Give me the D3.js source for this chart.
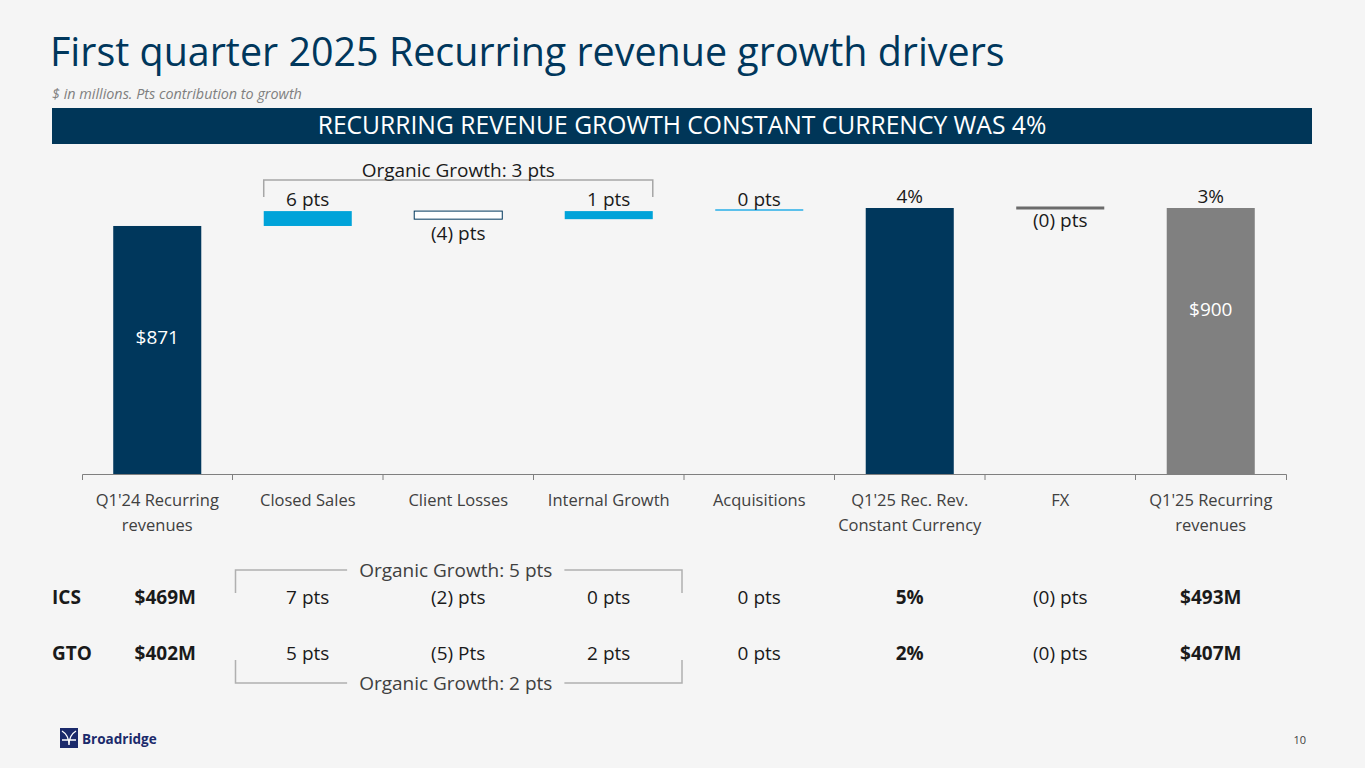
<!DOCTYPE html>
<html>
<head>
<meta charset="utf-8">
<script src="https://cdn.jsdelivr.net/npm/d3@7"></script>
<style>
  html, body { margin: 0; padding: 0; background: #f5f5f5; }
  svg { display: block; font-family: "Open Sans", sans-serif; }
</style>
</head>
<body>
<div id="chart"></div>
<script>
// ---- data ----
var categories = ["Q1'24 Recurring revenues", "Closed Sales", "Client Losses", "Internal Growth",
                  "Acquisitions", "Q1'25 Rec. Rev. Constant Currency", "FX", "Q1'25 Recurring revenues"];
var tickLabels = [["Q1'24 Recurring", "revenues"], ["Closed Sales"], ["Client Losses"], ["Internal Growth"],
                  ["Acquisitions"], ["Q1'25 Rec. Rev.", "Constant Currency"], ["FX"], ["Q1'25 Recurring", "revenues"]];
var startValue = 871;
var driverDeltas = [24, -13, 13, 0];   // $M as drawn: closed sales, client losses, internal growth, acquisitions
var constantCurrencyTotal = 900;
var fxDelta = 0;
var endValue = 900;
var barLabels = ["$871", "6 pts", "(4) pts", "1 pts", "0 pts", "4%", "(0) pts", "3%"];
var endInsideLabel = "$900";
var organicLabel = "Organic Growth: 3 pts";

var segments = ["ICS", "GTO"];
var icsRow = ["$469M", "7 pts", "(2) pts", "0 pts", "0 pts", "5%", "(0) pts", "$493M"];
var gtoRow = ["$402M", "5 pts", "(5) Pts", "2 pts", "0 pts", "2%", "(0) pts", "$407M"];
var segmentOrganic = ["Organic Growth: 5 pts", "Organic Growth: 2 pts"];

// ---- styles ----
var navy = "#00375c";
var colors = [navy, "#00a3d9", "#ffffff", "#00a3d9", "#5bc0eb", navy, "#6b6b6b", "#808080"];
var W = 1365, H = 768;
var baseY = 474;

var svg = d3.select("#chart").append("svg")
  .attr("width", W).attr("height", H);

svg.append("rect").attr("width", W).attr("height", H).attr("fill", "#f5f5f5");

function fitWidth(sel, w) {
  var len = sel.node().getComputedTextLength();
  var fs = parseFloat(sel.attr("font-size"));
  sel.attr("font-size", fs * w / len);
}

// title block
var title = svg.append("text")
  .attr("x", 50).attr("y", 66)
  .attr("font-size", 40)
  .attr("fill", navy)
  .text("First quarter 2025 Recurring revenue growth drivers");
fitWidth(title, 955);

var sub = svg.append("text")
  .attr("x", 52).attr("y", 99)
  .attr("font-size", 13)
  .attr("font-style", "italic")
  .attr("fill", "#7f7f7f")
  .text("$ in millions. Pts contribution to growth");
fitWidth(sub, 250);

svg.append("rect")
  .attr("x", 52).attr("y", 108).attr("width", 1260).attr("height", 36)
  .attr("fill", "#003658");
var banner = svg.append("text")
  .attr("x", 682).attr("y", 134)
  .attr("text-anchor", "middle")
  .attr("font-size", 22)
  .attr("fill", "#ffffff")
  .text("RECURRING REVENUE GROWTH CONSTANT CURRENCY WAS 4%");
fitWidth(banner, 729);

// ---- scales ----
var x = d3.scaleBand()
  .domain(categories)
  .range([82, 1286])
  .paddingInner(0.415)
  .paddingOuter(0.2075);

var y = d3.scaleLinear()
  .domain([471, 900])
  .range([baseY, 208]);

// ---- waterfall steps ----
var steps = [];
var running = startValue;
steps.push({ kind: "total", hi: startValue });
driverDeltas.forEach(function(d) {
  var next = running + d;
  steps.push({ kind: d > 0 ? "up" : d < 0 ? "down" : "flat",
               lo: Math.min(running, next), hi: Math.max(running, next), level: next });
  running = next;
});
steps.push({ kind: "total", hi: constantCurrencyTotal });
steps.push({ kind: fxDelta === 0 ? "flat" : (fxDelta > 0 ? "up" : "down"),
             lo: Math.min(constantCurrencyTotal, constantCurrencyTotal + fxDelta),
             hi: Math.max(constantCurrencyTotal, constantCurrencyTotal + fxDelta),
             level: constantCurrencyTotal + fxDelta });
steps.push({ kind: "total", hi: endValue });
steps.forEach(function(s, i) { s.cat = categories[i]; s.label = barLabels[i]; s.color = colors[i]; });

var bars = svg.append("g");
bars.selectAll("rect.bar")
  .data(steps.filter(function(s) { return s.kind !== "flat"; }))
  .enter().append("rect")
  .attr("class", "bar")
  .attr("x", function(d) { return x(d.cat); })
  .attr("width", x.bandwidth())
  .attr("y", function(d) { return y(d.hi); })
  .attr("height", function(d) { return d.kind === "total" ? baseY - y(d.hi) : y(d.lo) - y(d.hi); })
  .attr("fill", function(d) { return d.color; })
  .attr("stroke", function(d) { return d.kind === "down" ? navy : "none"; })
  .attr("stroke-width", 1);

bars.selectAll("line.flat")
  .data(steps.filter(function(s) { return s.kind === "flat"; }))
  .enter().append("line")
  .attr("class", "flat")
  .attr("x1", function(d) { return x(d.cat); })
  .attr("x2", function(d) { return x(d.cat) + x.bandwidth(); })
  .attr("y1", function(d, i) { return y(d.level) - (i === 0 ? 1 : 0); })
  .attr("y2", function(d, i) { return y(d.level) - (i === 0 ? 1 : 0); })
  .attr("stroke", function(d) { return d.color; })
  .attr("stroke-width", function(d, i) { return i === 0 ? 2 : 3; });

// value labels
bars.selectAll("text.val")
  .data(steps.slice(1))
  .enter().append("text")
  .attr("class", "val")
  .attr("x", function(d) { return x(d.cat) + x.bandwidth() / 2; })
  .attr("y", function(d) {
    var below = d.label.charAt(0) === "(";
    if (d.kind === "flat") return below ? y(d.level) + 19 : y(d.level) - 5;
    if (below) return y(d.lo) + 21;
    return y(d.hi) - 5;
  })
  .attr("text-anchor", "middle")
  .attr("font-size", 19)
  .attr("fill", "#1a1a1a")
  .text(function(d) { return d.label; });

// labels inside the total bars
var inside = [{ cat: categories[0], v: startValue, label: barLabels[0] },
              { cat: categories[7], v: endValue, label: endInsideLabel }];
bars.selectAll("text.inside")
  .data(inside)
  .enter().append("text")
  .attr("class", "inside")
  .attr("x", function(d) { return x(d.cat) + x.bandwidth() / 2; })
  .attr("y", function(d, i) { return y(d.v) + (i === 0 ? 118 : 108); })
  .attr("text-anchor", "middle")
  .attr("font-size", 19)
  .attr("fill", "#ffffff")
  .text(function(d) { return d.label; });

// organic bracket over the chart
var bl = x(categories[1]), br = x(categories[3]) + x.bandwidth();
svg.append("path")
  .attr("d", "M" + bl + ",197V180H" + br + "V197")
  .attr("fill", "none")
  .attr("stroke", "#a6a6a6")
  .attr("stroke-width", 1.5);
svg.append("text")
  .attr("x", (bl + br) / 2).attr("y", 177)
  .attr("text-anchor", "middle")
  .attr("font-size", 19)
  .attr("fill", "#1a1a1a")
  .text(organicLabel);

// ---- axis ----
var axisG = svg.append("g")
  .attr("transform", "translate(0," + baseY + ")")
  .call(d3.axisBottom(x).tickSize(0).tickSizeOuter(6).tickFormat(""))
  .attr("font-family", null);
axisG.select(".domain").attr("stroke", "#7f7f7f");

var half = x.paddingInner() * x.step() / 2;
axisG.selectAll("line.sep")
  .data(categories.slice(1))
  .enter().append("line")
  .attr("class", "sep")
  .attr("x1", function(d) { return x(d) - half; })
  .attr("x2", function(d) { return x(d) - half; })
  .attr("y1", 0).attr("y2", 6)
  .attr("stroke", "#7f7f7f");

var tl = axisG.selectAll("text.cat")
  .data(tickLabels)
  .enter().append("text")
  .attr("class", "cat")
  .attr("text-anchor", "middle")
  .attr("font-family", "'Open Sans', sans-serif")
  .attr("font-size", 16.5)
  .attr("fill", "#404040")
  .attr("transform", function(d, i) { return "translate(" + (x(categories[i]) + x.bandwidth() / 2) + ",32)"; });
tl.selectAll("tspan")
  .data(function(d) { return d; })
  .enter().append("tspan")
  .attr("x", 0)
  .attr("dy", function(d, i) { return i === 0 ? 0 : 25; })
  .text(function(d) { return d; });

// ---- segment table ----
var rows = [icsRow, gtoRow];
var rowY = [604, 660];
var boldCols = [0, 5, 7];
rows.forEach(function(row, r) {
  svg.append("text")
    .attr("x", 52).attr("y", rowY[r])
    .attr("font-size", 19)
    .attr("font-weight", "bold")
    .attr("fill", "#1a1a1a")
    .text(segments[r]);
  svg.selectAll(null)
    .data(row)
    .enter().append("text")
    .attr("x", function(d, i) { return x(categories[i]) + x.bandwidth() / 2 + (i === 0 ? 8 : 0); })
    .attr("y", rowY[r])
    .attr("text-anchor", "middle")
    .attr("font-size", 19)
    .attr("font-weight", function(d, i) { return boldCols.indexOf(i) >= 0 ? "bold" : "normal"; })
    .attr("fill", "#1a1a1a")
    .text(function(d) { return d; });
});

// segment organic brackets
var sl = x(categories[1]) - half + 3, sr = x(categories[3]) + x.bandwidth() + half - 2;
[[570, 593, 577], [683, 660, 690]].forEach(function(b, r) {
  var t = svg.append("text")
    .attr("x", (sl + sr) / 2 - 3).attr("y", b[2])
    .attr("text-anchor", "middle")
    .attr("font-size", 19)
    .attr("fill", "#404040")
    .text(segmentOrganic[r]);
  var bb = t.node().getBBox();
  svg.append("path")
    .attr("d", "M" + sl + "," + b[1] + "V" + b[0] + "H" + (bb.x - 12) +
               "M" + (bb.x + bb.width + 12) + "," + b[0] + "H" + sr + "V" + b[1])
    .attr("fill", "none")
    .attr("stroke", "#b0b0b0")
    .attr("stroke-width", 1.5);
});

// ---- footer ----
var logo = svg.append("g").attr("transform", "translate(60,728)");
logo.append("rect").attr("width", 18).attr("height", 20).attr("fill", "#1b2a6b");
logo.append("path")
  .attr("d", "M2,3C7,6 9,10 9,17M16,3C11,6 9,10 9,17M2,12C6,12 12,12 16,12")
  .attr("fill", "none").attr("stroke", "#ffffff").attr("stroke-width", 1.4);
logo.append("text")
  .attr("x", 22).attr("y", 16)
  .attr("font-size", 13.5)
  .attr("font-weight", "bold")
  .attr("fill", "#1b2a6b")
  .text("Broadridge");

svg.append("text")
  .attr("x", 1306).attr("y", 744)
  .attr("text-anchor", "end")
  .attr("font-size", 11)
  .attr("fill", "#404040")
  .text("10");
</script>
</body>
</html>
